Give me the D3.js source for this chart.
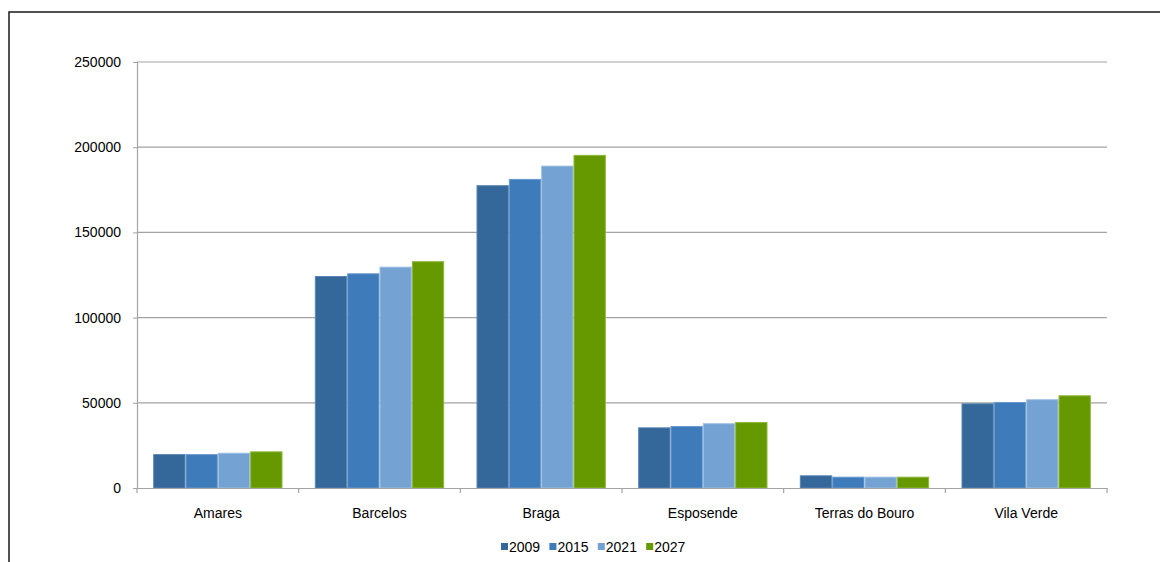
<!DOCTYPE html>
<html>
<head>
<meta charset="utf-8">
<script src="https://cdn.jsdelivr.net/npm/d3@7"></script>
<style>
  html, body { margin: 0; padding: 0; background: #fff; }
  svg { display: block; }
  text { font-family: "Liberation Sans", Arial, sans-serif; fill: #000; }
</style>
</head>
<body>
<svg id="chart" width="1160" height="562"></svg>
<script>
// Population per municipality, by year
const municipalities = ["Amares", "Barcelos", "Braga", "Esposende", "Terras do Bouro", "Vila Verde"];
const years = ["2009", "2015", "2021", "2027"];
const values2009 = [19900, 124400, 177700, 35600, 7450, 49700];
const values2015 = [19900, 126000, 181400, 36400, 6650, 50500];
const values2021 = [20700, 129900, 189200, 38000, 6650, 52100];
const values2027 = [21500, 133100, 195500, 38700, 6650, 54400];
const yTicks = [0, 50000, 100000, 150000, 200000, 250000];
const colors = ["#34679a", "#3e7bba", "#73a2d3", "#669900"];
const edgeColors = ["#5a86b2", "#6b9bcc", "#9dbfe2", "#8cb83a"];

const series = [values2009, values2015, values2021, values2027];

const svg = d3.select("#chart");
const plotLeft = 137, plotRight = 1107, plotTop = 62, plotBottom = 488;
const fontSize = 14;

// outer frame
svg.append("rect")
  .attr("x", 9).attr("y", 12)
  .attr("width", 1170).attr("height", 600)
  .attr("fill", "none").attr("stroke", "#1a1a1a").attr("stroke-width", 1.5);

const x = d3.scaleBand().domain(municipalities).range([plotLeft, plotRight]).paddingInner(0).paddingOuter(0);
const x1 = d3.scaleBand().domain(years).range([0, x.bandwidth()]).paddingInner(0).paddingOuter(0.5);
const y = d3.scaleLinear().domain([0, 250000]).range([plotBottom, plotTop]);

// gridlines
svg.append("g")
  .selectAll("line")
  .data(yTicks.filter(t => t > 0))
  .join("line")
  .attr("x1", plotLeft).attr("x2", plotRight)
  .attr("y1", d => y(d)).attr("y2", d => y(d))
  .attr("stroke", "#a3a3a3").attr("stroke-width", 1.2);

// y axis
const yAxis = svg.append("g")
  .attr("transform", `translate(${plotLeft},0)`)
  .call(d3.axisLeft(y).tickValues(yTicks).tickSize(4).tickPadding(12).tickFormat(d3.format("d")));
yAxis.select(".domain").attr("stroke", "#a3a3a3").attr("stroke-width", 1.2);
yAxis.selectAll(".tick line").attr("stroke", "#a3a3a3");
yAxis.selectAll("text").attr("font-size", fontSize).attr("font-family", "Liberation Sans, Arial, sans-serif").attr("fill", "#000");

// bars
const groups = svg.append("g")
  .selectAll("g")
  .data(municipalities)
  .join("g")
  .attr("transform", d => `translate(${x(d)},0)`);

groups.selectAll("rect")
  .data((d, i) => years.map((yr, j) => ({ year: yr, j, value: series[j][i] })))
  .join("rect")
  .attr("x", d => x1(d.year) + 0.5)
  .attr("y", d => y(d.value) + 0.5)
  .attr("width", x1.bandwidth() - 1)
  .attr("height", d => plotBottom - y(d.value) - 0.5)
  .attr("fill", d => colors[d.j])
  .attr("stroke", d => edgeColors[d.j])
  .attr("stroke-width", 1);

// x axis
const xAxis = svg.append("g")
  .attr("transform", `translate(0,${plotBottom})`)
  .call(d3.axisBottom(x).tickSize(0).tickPadding(20));
xAxis.select(".domain").attr("stroke", "#a3a3a3").attr("stroke-width", 1.2);
xAxis.selectAll("text").attr("font-size", fontSize).attr("font-family", "Liberation Sans, Arial, sans-serif").attr("fill", "#000");

// category separators below the axis
const seps = municipalities.map(m => x(m)).concat([plotRight]);
svg.append("g")
  .selectAll("line")
  .data(seps)
  .join("line")
  .attr("x1", d => d).attr("x2", d => d)
  .attr("y1", plotBottom).attr("y2", plotBottom + 5)
  .attr("stroke", "#a3a3a3").attr("stroke-width", 1.2);

// legend
const legend = svg.append("g").attr("transform", "translate(501,547)");
const item = legend.selectAll("g")
  .data(years)
  .join("g")
  .attr("transform", (d, i) => `translate(${i * 48.4},0)`);
item.append("rect")
  .attr("x", 0).attr("y", -4).attr("width", 7).attr("height", 7)
  .attr("fill", (d, i) => colors[i]);
item.append("text")
  .attr("x", 8).attr("y", 0).attr("dy", "0.36em")
  .attr("font-size", fontSize)
  .text(d => d);
</script>
</body>
</html>
